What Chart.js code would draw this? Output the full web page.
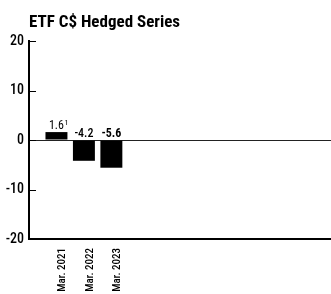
<!DOCTYPE html>
<html>
<head>
<meta charset="utf-8">
<script src="https://cdn.jsdelivr.net/npm/chart.js@4.4.1/dist/chart.umd.min.js"></script>
<style>
  html, body { margin: 0; padding: 0; background: #fff; }
  #wrap { width: 331px; height: 294px; }
</style>
</head>
<body>
<div id="wrap"><canvas id="etfChart"></canvas></div>
<script>
// Chart data
const title = 'ETF C$ Hedged Series';
const periods = ['', 'Mar. 2021', 'Mar. 2022', 'Mar. 2023', '', '', '', '', '', '', '', ''];
const returns = [null, 1.6, -4.2, -5.6, null, null, null, null, null, null, null, null];
const valueLabels = ['', '1.6', '-4.2', '-5.6', '', '', '', '', '', '', '', ''];
const footnotes = ['', '1', '', '', '', '', '', '', '', '', '', ''];
const labelWeights = ['normal', 'normal', '500', 'bold', 'normal', 'normal', 'normal', 'normal', 'normal', 'normal', 'normal', 'normal'];
const yTicks = [-20, -10, 0, 10, 20];

const FONT = '"Roboto Condensed", "DejaVu Sans Condensed", sans-serif';

// Title, tick marks and value labels
const extras = {
    id: 'extras',
    afterDraw(chart) {
        const ctx = chart.ctx;
        const area = chart.chartArea;
        const y = chart.scales.y;
        ctx.save();

        // title aligned with the y axis
        ctx.fillStyle = '#000';
        ctx.font = 'bold 17px ' + FONT;
        ctx.textAlign = 'left';
        ctx.textBaseline = 'alphabetic';
        ctx.fillText(title, area.left, 27);

        // short tick marks inside the plot
        ctx.strokeStyle = '#000';
        ctx.lineWidth = 1;
        yTicks.forEach(v => {
            const py = Math.round(y.getPixelForValue(v)) + 0.5;
            ctx.beginPath();
            ctx.moveTo(area.left, py);
            ctx.lineTo(area.left + 7, py);
            ctx.stroke();
        });

        // value labels above the bars / zero line
        const meta = chart.getDatasetMeta(0);
        const zero = y.getPixelForValue(0);
        meta.data.forEach((bar, i) => {
            if (returns[i] === null) return;
            const top = Math.min(bar.y, zero) - 3;
            ctx.font = labelWeights[i] + ' 12px ' + FONT;
            ctx.textAlign = 'center';
            ctx.textBaseline = 'alphabetic';
            const w = ctx.measureText(valueLabels[i]).width;
            ctx.fillText(valueLabels[i], bar.x, top);
            if (footnotes[i]) {
                ctx.font = '8px ' + FONT;
                ctx.textAlign = 'left';
                ctx.fillText(footnotes[i], bar.x + w / 2 + 0.5, top - 4);
            }
        });
        ctx.restore();
    }
};

new Chart(document.getElementById('etfChart'), {
    type: 'bar',
    data: {
        labels: periods,
        datasets: [{
            data: returns,
            backgroundColor: '#000',
            borderWidth: 0,
            barPercentage: 0.8,
            categoryPercentage: 1.0
        }]
    },
    options: {
        responsive: true,
        maintainAspectRatio: false,
        animation: false,
        layout: { padding: { top: 41, right: 0, left: 0, bottom: 0 } },
        plugins: {
            legend: { display: false },
            title: { display: false },
            tooltip: { enabled: false }
        },
        scales: {
            x: {
                offset: false,
                afterFit: (scale) => {
                    scale.paddingLeft = 0;
                    scale.paddingRight = 0;
                    scale.height = 55;
                },
                grid: { display: false },
                border: { display: true, color: '#000', width: 2 },
                ticks: {
                    autoSkip: false,
                    maxRotation: 90,
                    minRotation: 90,
                    padding: 1,
                    labelOffset: 6,
                    color: '#000',
                    font: { family: FONT, size: 11, weight: '500' }
                }
            },
            y: {
                min: -20,
                max: 20,
                afterBuildTicks: (scale) => { scale.ticks = yTicks.map(v => ({ value: v })); },
                afterFit: (scale) => {
                    scale.paddingTop = 0;
                    scale.paddingBottom = 0;
                    scale.width = 29;
                },
                grid: {
                    drawTicks: false,
                    color: (c) => c.tick && c.tick.value === 0 ? '#222' : 'rgba(0,0,0,0)',
                    lineWidth: 1
                },
                border: { display: true, color: '#000', width: 2 },
                ticks: {
                    padding: 5,
                    color: '#000',
                    font: { family: FONT, size: 14, weight: '500' }
                }
            }
        }
    },
    plugins: [extras]
});
</script>
</body>
</html>
